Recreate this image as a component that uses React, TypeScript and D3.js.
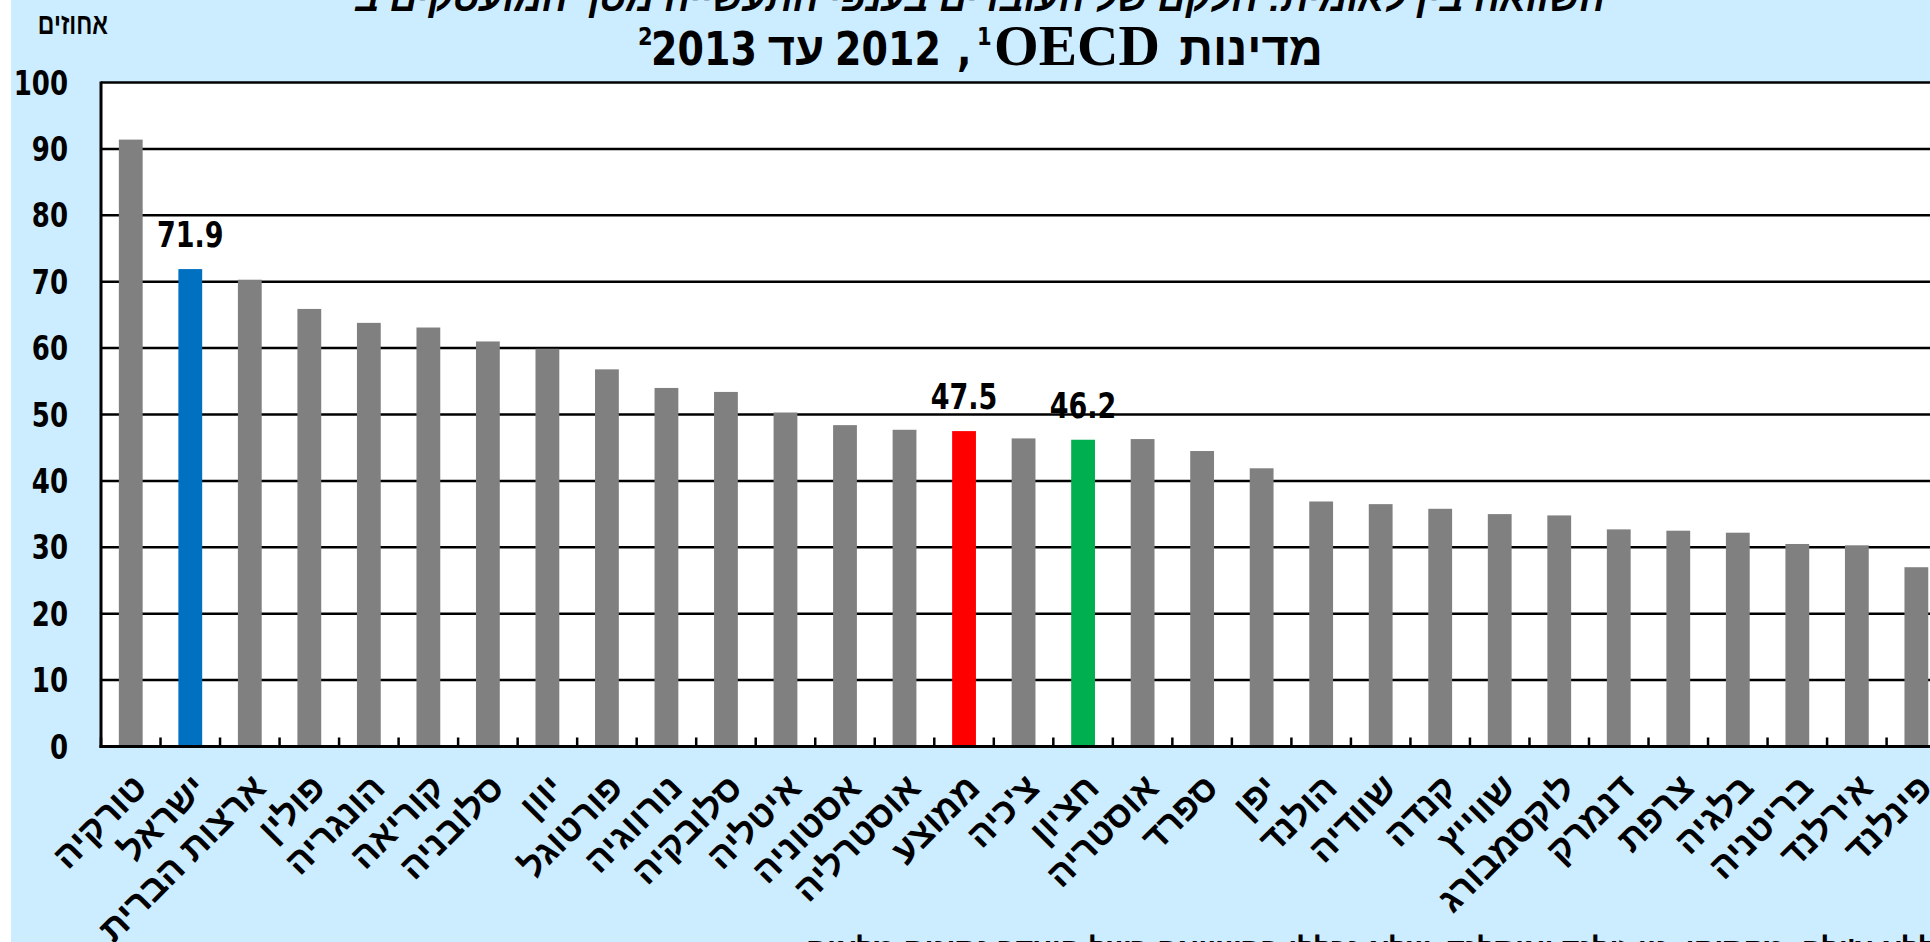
import React from 'react'
import * as d3 from 'd3'

// countries, right to left as in the source chart
const countries = ['טורקיה', 'ישראל', 'ארצות הברית', 'פולין', 'הונגריה', 'קוריאה', 'סלובניה', 'יוון', 'פורטוגל', 'נורווגיה', 'סלובקיה', 'איטליה', 'אסטוניה', 'אוסטרליה', 'ממוצע', "צ'כיה", 'חציון', 'אוסטריה', 'ספרד', 'יפן', 'הולנד', 'שוודיה', 'קנדה', 'שווייץ', 'לוקסמבורג', 'דנמרק', 'צרפת', 'בלגיה', 'בריטניה', 'אירלנד', 'פינלנד']
const values = [91.4, 71.9, 70.3, 65.9, 63.8, 63.1, 61.0, 59.9, 56.8, 54.0, 53.4, 50.3, 48.4, 47.7, 47.5, 46.4, 46.2, 46.3, 44.5, 41.9, 36.9, 36.5, 35.8, 35.0, 34.8, 32.7, 32.5, 32.2, 30.5, 30.3, 27.0]
const colored = ['ישראל', 'ממוצע', 'חציון']
const coloredFill = ['#0070C0', '#FF0000', '#00B050']
const yTicks = [0, 10, 20, 30, 40, 50, 60, 70, 80, 90, 100]

const titleLine1 = 'השוואה בין לאומית: חלקם של העובדים בענפי התעשייה מסך המועסקים ב'
const footnote = '1. ממוצע מדינות ה-OECD ללא צ\'ילה, מקסיקו, ניו זילנד ואיסלנד, שלא נכללו בהשוואה בשל היעדר נתונים מלאים'

const W = 1930
const H = 942
const left = 101
const step = 59.52
const top = 82.5
const bottom = 746.5

const numFont = "'DejaVu Sans', Verdana, sans-serif"
const hebFont = "'Liberation Sans', Arial, 'DejaVu Sans', sans-serif"

function App() {
  const x = d3.scaleBand<string>()
    .domain(countries)
    .range([left, left + step * countries.length])
    .paddingInner(0.6)
    .paddingOuter(0.3)

  const y = d3.scaleLinear().domain([0, 100]).range([bottom, top])

  const fillFor = (c: string) => {
    const i = colored.indexOf(c)
    return i >= 0 ? coloredFill[i] : '#808080'
  }

  const bw = x.bandwidth()
  const pad = (x.step() - bw) / 2

  return (
    <svg width={W} height={H} style={{ position: 'absolute', left: 0, top: 0 }}>
      <rect x={0} y={0} width={W} height={H} fill="#fff" />
      <rect x={11} y={0} width={W - 11} height={H} fill="#CCECFF" />

      {/* title, cut at the top as in the source */}
      <text x={980} y={11} textAnchor="middle" direction="rtl" fontFamily={hebFont} fontWeight="bold" fontStyle="italic" fontSize={38}>
        {titleLine1}
      </text>
      <g fontWeight="bold" fill="#000">
        <text x={1323} y={65} textAnchor="end" fontFamily={hebFont} fontSize={47}>מדינות</text>
        <text x={994} y={65} textLength={166} lengthAdjust="spacingAndGlyphs" fontFamily="'Liberation Serif', 'Times New Roman', serif" fontSize={57}>OECD</text>
        <text transform="translate(977,45) scale(1,1.2)" fontFamily={numFont} fontSize={21}>1</text>
        <text transform="translate(957,65) scale(1,1.2)" fontFamily={numFont} fontSize={38}>,</text>
        <text transform="translate(888,65) scale(1,1.2)" textAnchor="middle" fontFamily={numFont} fontSize={38}>2012</text>
        <text x={796} y={65} textAnchor="middle" fontFamily={hebFont} fontSize={47}>עד</text>
        <text transform="translate(704,65) scale(1,1.2)" textAnchor="middle" fontFamily={numFont} fontSize={38}>2013</text>
        <text transform="translate(638,45) scale(1,1.2)" fontFamily={numFont} fontSize={21}>2</text>
      </g>

      <text transform="translate(108,34) scale(1,1.3)" textAnchor="end" fontFamily={hebFont} fontWeight="bold" fontSize={23}>אחוזים</text>

      {/* plot area */}
      <rect x={left} y={top} width={W - left} height={bottom - top} fill="#fff" />

      <g stroke="#000" strokeWidth={2.5}>
        {yTicks.filter(t => t > 0).map(t => (
          <line key={t} x1={left} x2={W} y1={y(t)} y2={y(t)} />
        ))}
      </g>

      <g>
        {countries.map((c, i) => (
          <rect key={c} x={x(c)} y={y(values[i])} width={bw} height={bottom - y(values[i])} fill={fillFor(c)} />
        ))}
      </g>

      <g stroke="#000" strokeWidth={2.5}>
        {countries.map(c => (
          <line key={c} x1={(x(c) as number) - pad} x2={(x(c) as number) - pad} y1={bottom} y2={bottom - 9} />
        ))}
      </g>

      <line x1={left} x2={left} y1={top - 1} y2={bottom + 1.5} stroke="#000" strokeWidth={3} />
      <line x1={left - 1.5} x2={W} y1={bottom} y2={bottom} stroke="#000" strokeWidth={3} />

      {/* y axis labels */}
      <g fontFamily={numFont} fontWeight="bold" fontSize={26}>
        {yTicks.map(t => (
          <text key={t} transform={`translate(68,${y(t)}) scale(1,1.3)`} textAnchor="end" dy="0.36em">{t}</text>
        ))}
      </g>

      {/* value labels */}
      <g fontFamily={numFont} fontWeight="bold" fontSize={27}>
        {countries.map((c, i) => colored.includes(c) ? (
          <text key={c} transform={`translate(${(x(c) as number) + bw / 2},${y(values[i]) - 22}) scale(1,1.3)`} textAnchor="middle">
            {d3.format('.1f')(values[i])}
          </text>
        ) : null)}
      </g>

      {/* category labels */}
      <g fontFamily={hebFont} fontWeight="bold" fontSize={36}>
        {countries.map(c => (
          <text key={c} transform={`translate(${(x(c) as number) + bw / 2 + 18},790) rotate(-45)`} textAnchor="end">{c}</text>
        ))}
      </g>

      <text x={806} y={959} textAnchor="end" direction="rtl" fontFamily={hebFont} fontWeight="bold" fontSize={30}>{footnote}</text>
    </svg>
  )
}

export default App
